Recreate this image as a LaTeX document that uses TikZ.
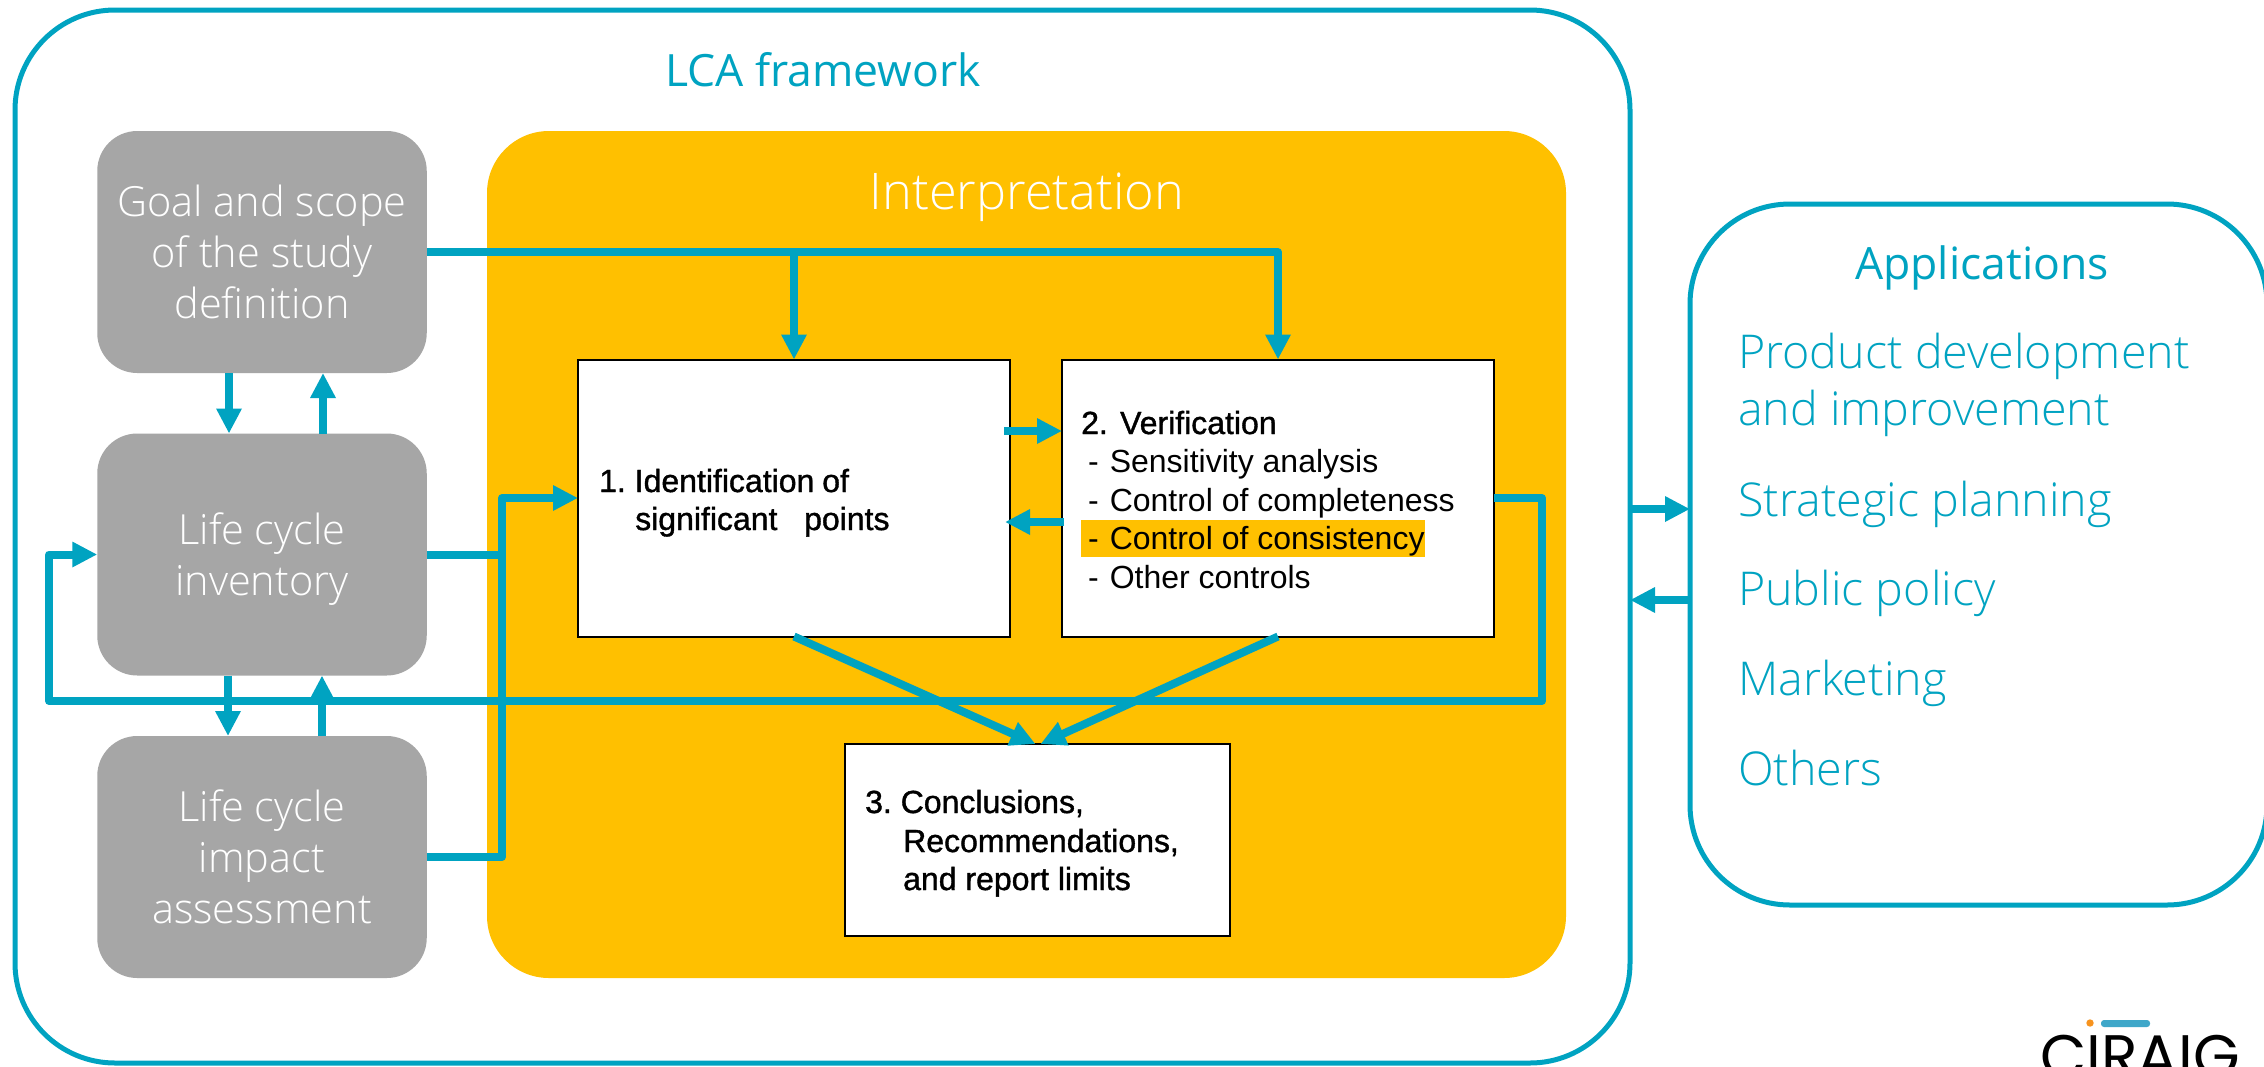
\documentclass[tikz,border=0pt]{standalone}
\usepackage{fontspec}
\usetikzlibrary{arrows.meta}
\setmainfont{Liberation Sans}
\newfontfamily\lightf{Open Sans Light}
\newfontfamily\regf{Open Sans}
\newfontfamily\fakeb[FakeBold=1.2]{Liberation Sans}
\newfontfamily\logof{Poppins}
\definecolor{teal}{HTML}{00A3C1}
\definecolor{greybox}{HTML}{A6A6A6}
\definecolor{amber}{HTML}{FFC000}
\definecolor{logobar}{HTML}{3FA7C9}
\definecolor{logodot}{HTML}{F7931E}
\tikzset{
  panel/.style={rectangle,inner sep=0pt,outer sep=0pt},
  outerbox/.style={panel,draw=teal,line width=5pt,fill=white,rounded corners=#1},
  greyb/.style={panel,fill=greybox,rounded corners=40pt,minimum width=329.5pt,minimum height=242pt,
    text=white,align=center,font=\lightf\fontsize{41.5}{51}\selectfont},
  whitebox/.style={panel,draw=black,line width=2pt,fill=white},
  bigt/.style={inner sep=0pt,anchor=base,text=teal,font=\regf\fontsize{44.5}{48}\selectfont},
  appt/.style={inner sep=0pt,anchor=base west,text=teal,font=\lightf\fontsize{46.6}{48}\selectfont},
  bt/.style={inner sep=0pt,anchor=base west,font=\fakeb\fontsize{32}{36}\selectfont},
  rt/.style={inner sep=0pt,anchor=base west,font=\fontsize{32}{36}\selectfont},
  link/.style={draw=teal,line width=8pt,line join=round},
  head/.style={link,-{Triangle[length=25pt,width=24pt]}},
}
\begin{document}
\begin{tikzpicture}[x=1pt,y=-1pt]
\useasboundingbox (0,0) rectangle (2264,1066);
\clip (0,0) rectangle (2264,1066);
\fill[white] (0,0) rectangle (2264,1066);
\node[outerbox=100pt,minimum width=1615pt,minimum height=1053pt] (lca) at (822.5,536.5) {};
\node[outerbox=100pt,minimum width=577pt,minimum height=701pt] (apps) at (1978.5,554.5) {};
\node[panel,fill=amber,rounded corners=62pt,minimum width=1079pt,minimum height=847pt] (interp) at (1026.5,554.5) {};
\node[greyb] (goal) at (262,252) {Goal and scope\\of the study\\definition};
\node[greyb] (inv) at (262,554.5) {};
\node[inner sep=0pt,text=white,align=center,font=\lightf\fontsize{41.5}{51}\selectfont] (invt) at (262,559) {Life cycle\\inventory};
\node[greyb] (imp) at (262,857) {Life cycle\\impact\\assessment};
\node[whitebox,minimum width=432pt,minimum height=277pt] (s1) at (794,498) {};
\node[whitebox,minimum width=432pt,minimum height=277pt] (s2) at (1278,498) {};
\node[whitebox,minimum width=385pt,minimum height=192pt] (s3) at (1037.5,840) {};
\node[panel,fill=amber,minimum width=344pt,minimum height=37pt] (hl) at (1253,538.5) {};
\node[bigt] (tlca) at (823,86) {LCA framework};
\node[bigt,text=white,font=\lightf\fontsize{50.5}{48}\selectfont] (tint) at (1027,209) {Interpretation};
\node[bigt] (tapp) at (1982,279) {Applications};
\node[appt] (a1) at (1738,368) {Product development};
\node[appt] (a2) at (1738,425) {and improvement};
\node[appt] (a3) at (1738,516) {Strategic planning};
\node[appt] (a4) at (1738,605) {Public policy};
\node[appt] (a5) at (1738,695) {Marketing};
\node[appt] (a6) at (1738,785) {Others};
\node[bt] (t11) at (599,492) {1.\hspace{-3pt} Identification\hspace{-1pt} of};
\node[bt] (t12) at (635,530) {significant\ \ \ points};
\node[bt] (t20) at (1081,434) {2.\ \hspace{-2pt}\,Verification};
\node[rt] (t21) at (1088,472.5) {-\hspace{2pt} Sensitivity analysis};
\node[rt] (t22) at (1088,511) {-\hspace{2pt} Control of completeness};
\node[rt] (t23) at (1088,549.5) {-\hspace{2pt} Control of consistency};
\node[rt] (t24) at (1088,588) {-\hspace{2pt} Other controls};
\node[bt] (t31) at (865,813) {3.\hspace{-3pt} Conclusions,};
\node[bt] (t32) at (903,852) {Recommendations,};
\node[bt] (t33) at (903,890) {and report limits};
\node[inner sep=0pt,anchor=base,font=\logof\fontsize{60}{60}\selectfont] (logo) at (2140,1077) {CIRAIG};
\fill[logodot] (2090,1023) circle (3.7);
\fill[rounded corners=3pt,logobar] (2101,1020) rectangle (2150,1027);
% connectors
\path[head] (goal.east) -- (goal.east -| s2.north) -- (s2.north);
\path[head] (goal.east -| s1.north) -- (s1.north);
\path[head] ([xshift=-33pt]goal.south) -- ([xshift=-33pt]inv.north);
\path[head] ([xshift=61pt]inv.north) -- ([xshift=61pt]goal.south);
\path[head] ([xshift=-34pt]inv.south) -- ([xshift=-34pt]imp.north);
\path[head] ([xshift=60pt]imp.north) -- ([xshift=60pt]inv.south);
\coordinate (bus) at (502,498);
\path[head] (imp.east) -- (imp.east -| bus) -- (s1.west -| bus) -- (s1.west);
\path[link] (inv.east) -- (inv.east -| bus);
\coordinate (fbr) at (1542,701);
\coordinate (fbl) at (49,701);
\path[head] (s2.east) -- (s2.east -| fbr) -- (fbr) -- (fbl) -- (inv.west -| fbl) -- (inv.west);
\path[head] ([xshift=-6pt,yshift=67pt]s1.east) -- ([yshift=67pt]s2.west);
\path[head] ([xshift=2pt,yshift=-24pt]s2.west) -- ([xshift=-5pt,yshift=-24pt]s1.east);
\path[head] (s1.south) -- ([xshift=-2pt]s3.north);
\path[head] (s2.south) -- ([xshift=3pt]s3.north);
\path[head] ([xshift=2pt,yshift=27.5pt]lca.east) -- ([yshift=45.5pt]apps.west);
\path[head] ([yshift=-45.5pt]apps.west) -- ([yshift=-63.5pt]lca.east);
\end{tikzpicture}
\end{document}
